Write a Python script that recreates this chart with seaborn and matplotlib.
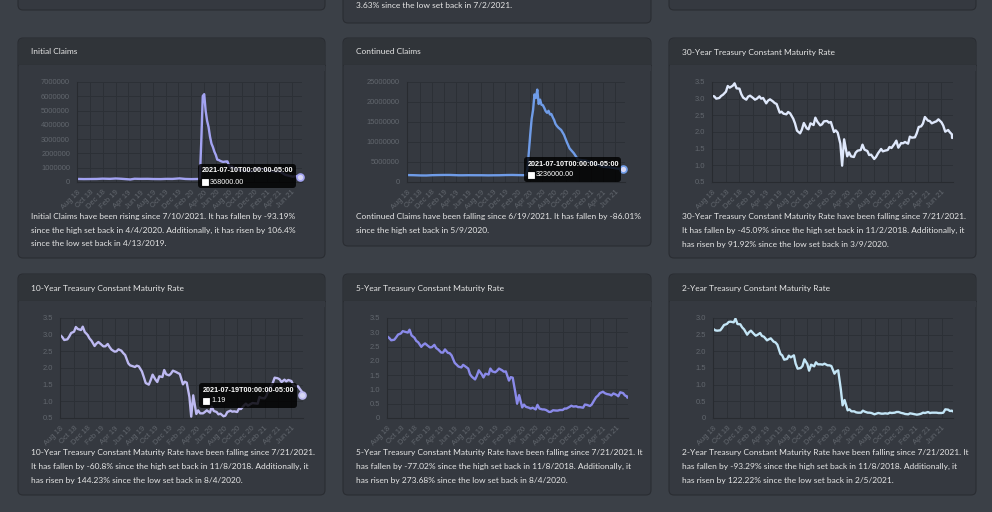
import matplotlib
matplotlib.use("Agg")
import pandas as pd
import matplotlib.pyplot as plt
import matplotlib.dates as mdates
from matplotlib.patches import FancyBboxPatch, Rectangle
from matplotlib.transforms import IdentityTransform
import seaborn as sns

W, H = 992, 512

# ---- data -------------------------------------------------------------
claim_dates = [
    "2018-08-04", "2018-09-01", "2018-10-06", "2018-11-03", "2018-12-01", "2019-01-05",
    "2019-02-02", "2019-03-02", "2019-04-13", "2019-05-04", "2019-06-01", "2019-07-06",
    "2019-08-03", "2019-09-07", "2019-10-05", "2019-11-02", "2019-12-07", "2020-01-04",
    "2020-02-01", "2020-03-07", "2020-03-14", "2020-03-21", "2020-03-28", "2020-04-04",
    "2020-04-11", "2020-04-18", "2020-04-25", "2020-05-02", "2020-05-09", "2020-05-16",
    "2020-05-23", "2020-05-30", "2020-06-06", "2020-06-13", "2020-06-20", "2020-06-27",
    "2020-07-04", "2020-07-11", "2020-07-18", "2020-07-25", "2020-08-01", "2020-08-08",
    "2020-08-15", "2020-08-22", "2020-09-05", "2020-09-19", "2020-10-03", "2020-10-17",
    "2020-11-07", "2020-11-28", "2020-12-12", "2021-01-09", "2021-02-06", "2021-03-06",
    "2021-04-03", "2021-05-01", "2021-06-05", "2021-06-19", "2021-07-03", "2021-07-10",
]
initial_claims = [
    214000, 205000, 210000, 214000, 234000, 220000,
    245000, 224000, 178000, 228000, 218000, 222000,
    209000, 204000, 220000, 215000, 252000, 214000,
    202000, 211000, 251000, 2914000, 6015000, 6149000,
    4971000, 4281000, 3846000, 3176000, 2687000, 2446000,
    2123000, 1897000, 1566000, 1540000, 1482000, 1438000,
    1409000, 1422000, 1435000, 1442000, 1191000, 971000,
    1104000, 1011000, 893000, 870000, 804000, 790000,
    757000, 780000, 947000, 926000, 812000, 745000,
    744000, 498000, 376000, 411000, 386000, 368000,
]
continued_claims = [
    1730000, 1700000, 1640000, 1630000, 1700000, 1740000,
    1760000, 1760000, 1680000, 1680000, 1700000, 1690000,
    1690000, 1660000, 1680000, 1690000, 1740000, 1760000,
    1730000, 1700000, 1780000, 3410000, 7440000, 11900000,
    15800000, 18000000, 21900000, 21000000, 23100000, 19500000,
    20600000, 19300000, 19200000, 18500000, 17700000, 17300000,
    17800000, 16900000, 17000000, 16200000, 15500000, 14500000,
    14000000, 13600000, 13000000, 11800000, 10000000, 8400000,
    7200000, 5600000, 5500000, 5300000, 4800000, 4300000,
    3800000, 3700000, 3400000, 3300000, 3260000, 3236000,
]

# treasury rates, read roughly three times a month (1st, 9th, 18th)
rate_months = [
    "2018-08", "2018-09", "2018-10", "2018-11", "2018-12",
    "2019-01", "2019-02", "2019-03", "2019-04", "2019-05", "2019-06",
    "2019-07", "2019-08", "2019-09", "2019-10", "2019-11", "2019-12",
    "2020-01", "2020-02", "2020-03", "2020-04", "2020-05", "2020-06",
    "2020-07", "2020-08", "2020-09", "2020-10", "2020-11", "2020-12",
    "2021-01", "2021-02", "2021-03", "2021-04", "2021-05", "2021-06",
    "2021-07",
]
rate_dates = [f"{m}-{d}" for m in rate_months for d in ("01", "09", "18")] + ["2021-07-19", "2021-07-21"]

rate_30y = [
    3.08, 3.07, 3.00, 3.02, 3.08, 3.12, 3.21, 3.38, 3.33, 3.39, 3.46, 3.31, 3.30, 3.14, 3.03,
    2.97, 3.06, 3.09, 3.02, 2.97, 3.00, 3.07, 3.00, 3.02, 2.86, 2.94, 2.98, 2.92, 2.87, 2.84,
    2.58, 2.61, 2.55, 2.53, 2.60, 2.56, 2.40, 2.26, 2.04, 1.96, 2.07, 2.27, 2.11, 2.08, 2.26,
    2.21, 2.43, 2.31, 2.20, 2.23, 2.32,
    2.33, 2.28, 2.30, 2.00, 2.05, 1.98, 1.65, 0.99, 1.78, 1.27, 1.39, 1.27, 1.25, 1.38, 1.44,
    1.46, 1.62, 1.47, 1.43, 1.31, 1.32, 1.19, 1.25, 1.36, 1.49, 1.42, 1.44, 1.46, 1.55, 1.52,
    1.65, 1.74, 1.53, 1.67, 1.66, 1.70,
    1.65, 1.86, 1.83, 1.84, 1.96, 2.15, 2.17, 2.25, 2.45, 2.34, 2.33, 2.26, 2.30, 2.32, 2.38,
    2.29, 2.19, 2.01, 2.06, 1.99, 1.93, 1.82, 1.90,
]
rate_10y = [
    2.98, 2.93, 2.84, 2.86, 2.94, 3.05, 3.09, 3.23, 3.17, 3.14, 3.24, 3.08, 2.99, 2.89, 2.82,
    2.66, 2.73, 2.78, 2.70, 2.65, 2.65, 2.72, 2.63, 2.55, 2.49, 2.50, 2.56, 2.52, 2.45, 2.39,
    2.14, 2.08, 2.06, 2.03, 2.07, 2.05, 1.90, 1.74, 1.55, 1.50, 1.63, 1.80, 1.65, 1.58, 1.75,
    1.73, 1.94, 1.81, 1.78, 1.83, 1.92,
    1.88, 1.85, 1.82, 1.51, 1.59, 1.56, 1.13, 0.54, 1.18, 0.62, 0.73, 0.64, 0.64, 0.68, 0.73,
    0.66, 0.84, 0.71, 0.68, 0.61, 0.63, 0.55, 0.57, 0.68, 0.72, 0.69, 0.70, 0.68, 0.78, 0.77,
    0.88, 0.93, 0.87, 0.92, 0.95, 0.94,
    0.93, 1.13, 1.10, 1.09, 1.17, 1.34, 1.45, 1.54, 1.71, 1.69, 1.66, 1.58, 1.65, 1.60, 1.64,
    1.61, 1.49, 1.45, 1.45, 1.37, 1.29, 1.19, 1.27,
]
rate_5y = [
    2.85, 2.80, 2.72, 2.74, 2.82, 2.92, 2.96, 3.04, 3.02, 2.99, 3.09, 2.89, 2.81, 2.70, 2.65,
    2.49, 2.56, 2.61, 2.52, 2.47, 2.48, 2.56, 2.45, 2.40, 2.29, 2.29, 2.40, 2.28, 2.27, 2.19,
    1.93, 1.87, 1.80, 1.77, 1.86, 1.81, 1.73, 1.53, 1.44, 1.35, 1.48, 1.67, 1.53, 1.42, 1.55,
    1.52, 1.73, 1.63, 1.60, 1.65, 1.73,
    1.67, 1.62, 1.63, 1.31, 1.43, 1.41, 0.89, 0.50, 0.80, 0.37, 0.47, 0.39, 0.36, 0.33, 0.36,
    0.30, 0.46, 0.33, 0.30, 0.30, 0.28, 0.21, 0.22, 0.27, 0.26, 0.26, 0.28, 0.28, 0.33, 0.33,
    0.39, 0.43, 0.40, 0.41, 0.38, 0.38,
    0.36, 0.47, 0.46, 0.42, 0.47, 0.59, 0.73, 0.78, 0.87, 0.92, 0.87, 0.84, 0.82, 0.79, 0.86,
    0.81, 0.76, 0.90, 0.87, 0.79, 0.76, 0.72, 0.71,
]
rate_2y = [
    2.67, 2.63, 2.62, 2.63, 2.70, 2.79, 2.82, 2.88, 2.89, 2.87, 2.98, 2.82, 2.81, 2.72, 2.66,
    2.50, 2.57, 2.62, 2.52, 2.47, 2.50, 2.55, 2.46, 2.44, 2.33, 2.36, 2.39, 2.29, 2.27, 2.20,
    1.92, 1.88, 1.75, 1.77, 1.87, 1.82, 1.88, 1.63, 1.48, 1.50, 1.56, 1.76, 1.62, 1.42, 1.60,
    1.55, 1.67, 1.61, 1.61, 1.60, 1.63,
    1.58, 1.58, 1.56, 1.33, 1.40, 1.43, 0.86, 0.38, 0.54, 0.23, 0.26, 0.20, 0.20, 0.17, 0.16,
    0.16, 0.22, 0.19, 0.16, 0.16, 0.15, 0.11, 0.13, 0.15, 0.13, 0.13, 0.14, 0.13, 0.16, 0.15,
    0.16, 0.18, 0.18, 0.15, 0.14, 0.12,
    0.11, 0.14, 0.13, 0.11, 0.10, 0.11, 0.13, 0.16, 0.15, 0.18, 0.15, 0.16, 0.16, 0.16, 0.15,
    0.15, 0.16, 0.26, 0.25, 0.21, 0.22, 0.21, 0.20,
]

# ---- style ------------------------------------------------------------
PAGE_BG = "#3b4047"
CARD_BG = "#353940"
HEAD_BG = "#303439"
BORDER = "#2a2d32"
GRID = "#2c3036"
TICK_TXT = "#62676e"
BODY_TXT = "#e6e6e6"
FS = 6.0

sns.set_theme(style="dark")
plt.rcParams["font.family"] = ["Lato", "DejaVu Sans"]

fig = plt.figure(figsize=(W / 100, H / 100), dpi=100)
fig.patch.set_facecolor(PAGE_BG)
PIX = IdentityTransform()


def rounded(x0, y0, x1, y1, fc, ec="none", r=4, lw=0.8, alpha=1.0, z=-2):
    p = FancyBboxPatch((x0, H - y1), x1 - x0, y1 - y0,
                       boxstyle=f"round,pad=0,rounding_size={r}",
                       transform=PIX, fc=fc, ec=ec, lw=lw, alpha=alpha, zorder=z)
    fig.patches.append(p)


def card(x0, y0, x1, y1, title=None, head_h=27):
    rounded(x0, y0, x1, y1, CARD_BG, BORDER, r=5, z=-3)
    if title is None:
        return
    rounded(x0 + 0.5, y0 + 0.5, x1 - 0.5, y0 + head_h + 6, HEAD_BG, r=5, z=-2)
    fig.patches.append(Rectangle((x0 + 0.5, H - (y0 + head_h + 6)), x1 - x0 - 1, 6,
                                 transform=PIX, fc=CARD_BG, ec="none", zorder=-1))
    fig.lines.append(plt.Line2D([x0, x1], [H - (y0 + head_h)] * 2, transform=PIX,
                                color=BORDER, lw=0.8, zorder=-1))
    fig.text((x0 + 13) / W, 1 - (y0 + 14) / H, title, color=BODY_TXT,
             fontsize=FS, va="center", ha="left")


def body_text(x, y, lines):
    for i, s in enumerate(lines):
        fig.text(x / W, 1 - (y + i * 14) / H, s, color=BODY_TXT, fontsize=FS,
                 va="center", ha="left")


def tooltip(x0, y0, x1, y1, head, value):
    rounded(x0, y0, x1, y1, "black", r=3, alpha=0.82, z=5)
    fig.text((x0 + 4) / W, 1 - (y0 + 7) / H, head, color="white", fontsize=5.2,
             fontweight="bold", family="Liberation Sans", va="center", zorder=6)
    fig.patches.append(Rectangle((x0 + 4, H - (y0 + 21)), 6, 6, transform=PIX,
                                 fc="white", ec="white", lw=0.6, zorder=6))
    fig.text((x0 + 12) / W, 1 - (y0 + 18) / H, value, color="white", fontsize=5.2,
             family="Liberation Sans", va="center", zorder=6)


def chart(box, dates, values, color, ylim, step, yfmt, xlim, hover=None):
    l, t, r, b = box
    ax = fig.add_axes([l / W, 1 - b / H, (r - l) / W, (b - t) / H])
    ax.set_zorder(1)
    ax.set_facecolor("none")
    df = pd.DataFrame({"date": pd.to_datetime(dates), "value": values})
    sns.lineplot(data=df, x="date", y="value", ax=ax, color=color, linewidth=1.7)
    if hover is not None:
        hx, hy = pd.to_datetime(hover[0]), hover[1]
        ax.plot([hx], [hy], marker="o", ms=5, mfc="#d6d6f3", mec=color, mew=1.2,
                zorder=4, clip_on=False)
    ax.set_xlim(pd.to_datetime(xlim[0]), pd.to_datetime(xlim[1]))
    ax.set_ylim(*ylim)
    ticks = []
    v = ylim[0]
    while v <= ylim[1] + 1e-9:
        ticks.append(v)
        v += step
    ax.set_yticks(ticks)
    ax.set_yticklabels([yfmt(v) for v in ticks])
    ax.xaxis.set_major_locator(mdates.MonthLocator(bymonth=[2, 4, 6, 8, 10, 12]))
    ax.xaxis.set_major_formatter(mdates.DateFormatter("%b %y"))
    ax.grid(True, color=GRID, lw=0.7)
    ax.tick_params(axis="both", length=4, width=0.7, color=GRID, labelcolor=TICK_TXT,
                   labelsize=5.4, pad=1)
    for lab in ax.get_xticklabels() + ax.get_yticklabels():
        lab.set_fontfamily("Liberation Sans")
    plt.setp(ax.get_xticklabels(), rotation=45, ha="right", rotation_mode="anchor")
    for side in ("top", "right"):
        ax.spines[side].set_visible(False)
    for side in ("left", "bottom"):
        ax.spines[side].set_color("#282b30")
        ax.spines[side].set_linewidth(0.8)
    ax.set_xlabel("")
    ax.set_ylabel("")
    return ax


# ---- top row (cut off) -------------------------------------------------
card(18, -40, 325, 10)
card(343, -40, 651, 23)
card(669, -40, 976, 10)
fig.text(356 / W, 1 - 5 / H, "3.63% since the low set back in 7/2/2021.", color=BODY_TXT,
         fontsize=FS, va="center")

# ---- second row -------------------------------------------------------
card(18, 38, 325, 258, "Initial Claims")
card(343, 38, 651, 246, "Continued Claims")
card(669, 38, 976, 258, "30-Year Treasury Constant Maturity Rate")

claims_xlim = ("2018-07-30", "2021-07-20")
rates_xlim = ("2018-07-30", "2021-07-23")
big = lambda v: f"{int(v)}"
dec = lambda v: "0" if v == 0 else f"{v:.1f}"

chart((77, 82, 302, 182), claim_dates, initial_claims, "#a3a3f2", (0, 7000000), 1000000,
      big, claims_xlim, hover=("2021-07-10", 368000))
chart((407, 82, 625, 182), claim_dates, continued_claims, "#6f9ce8", (0, 25000000), 5000000,
      big, claims_xlim, hover=("2021-07-10", 3236000))
chart((712, 82, 953, 182), rate_dates, rate_30y, "#dfe8fb", (0.5, 3.5), 0.5, dec, rates_xlim)

body_text(31, 216, [
    "Initial Claims have been rising since 7/10/2021. It has fallen by -93.19%",
    "since the high set back in 4/4/2020. Additionally, it has risen by 106.4%",
    "since the low set back in 4/13/2019.",
])
body_text(356, 216, [
    "Continued Claims have been falling since 6/19/2021. It has fallen by -86.01%",
    "since the high set back in 5/9/2020.",
])
body_text(682, 216, [
    "30-Year Treasury Constant Maturity Rate have been falling since 7/21/2021.",
    "It has fallen by -45.09% since the high set back in 11/2/2018. Additionally, it",
    "has risen by 91.92% since the low set back in 3/9/2020.",
])

# ---- third row --------------------------------------------------------
card(18, 274, 325, 495, "10-Year Treasury Constant Maturity Rate")
card(343, 274, 651, 495, "5-Year Treasury Constant Maturity Rate")
card(669, 274, 976, 495, "2-Year Treasury Constant Maturity Rate")

chart((60, 318, 303, 418), rate_dates, rate_10y, "#bdb9f1", (0.5, 3.5), 0.5, dec, rates_xlim,
      hover=("2021-07-19", 1.19))
chart((387, 318, 628, 418), rate_dates, rate_5y, "#8a8aea", (0, 3.5), 0.5, dec, rates_xlim)
chart((713, 318, 953, 418), rate_dates, rate_2y, "#c3e5f6", (0, 3.0), 0.5, dec, rates_xlim)

body_text(31, 452, [
    "10-Year Treasury Constant Maturity Rate have been falling since 7/21/2021.",
    "It has fallen by -60.8% since the high set back in 11/8/2018. Additionally, it",
    "has risen by 144.23% since the low set back in 8/4/2020.",
])
body_text(356, 452, [
    "5-Year Treasury Constant Maturity Rate have been falling since 7/21/2021. It",
    "has fallen by -77.02% since the high set back in 11/8/2018. Additionally, it",
    "has risen by 273.68% since the low set back in 8/4/2020.",
])
body_text(682, 452, [
    "2-Year Treasury Constant Maturity Rate have been falling since 7/21/2021. It",
    "has fallen by -93.29% since the high set back in 11/8/2018. Additionally, it",
    "has risen by 122.22% since the low set back in 2/5/2021.",
])

# ---- tooltips ---------------------------------------------------------
tooltip(198, 164, 296, 188, "2021-07-10T00:00:00-05:00", "368000.00")
tooltip(524, 157, 621, 182, "2021-07-10T00:00:00-05:00", "3236000.00")
tooltip(199, 383, 297, 408, "2021-07-19T00:00:00-05:00", "1.19")

fig.savefig("out.png", dpi=100, facecolor=fig.get_facecolor())
